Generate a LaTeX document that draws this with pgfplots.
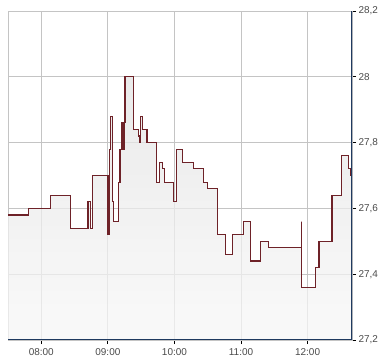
\documentclass[border=0pt]{standalone}
\usepackage{pgfplots}
\pgfplotsset{compat=1.18}
\usepackage{fontspec}
\setmainfont{Liberation Sans}
\definecolor{linered}{HTML}{6E2228}
\definecolor{gridgray}{HTML}{C4C4C4}
\definecolor{navy}{HTML}{1F3A60}
\definecolor{labgray}{HTML}{4A4A4A}
\pgfplotstableread{
t v
450 27.58
468.3 27.60
488.1 27.64
506.1 27.54
522.1 27.62
524.2 27.54
526.0 27.70
540.1 27.52
541.3 27.78
542.6 27.88
544.4 27.62
545.0 27.56
549.8 27.68
550.9 27.78
552.1 27.86
553.2 27.78
554.5 27.86
555.4 28.00
562.9 27.84
567.2 27.82
568.1 27.80
569.0 27.88
571.0 27.84
575.3 27.80
583.6 27.68
586.4 27.74
589.1 27.72
590.9 27.68
599.0 27.62
601.7 27.78
607.4 27.74
617.0 27.72
626.0 27.68
629.6 27.66
638.6 27.52
645.8 27.46
652.1 27.52
662.0 27.56
668.4 27.44
677.5 27.50
684.6 27.48
714.3 27.56
714.3 27.36
726.9 27.42
730.3 27.50
742.0 27.64
750.4 27.76
756.7 27.72
759.1 27.70
760 27.70
}\pricedata
\begin{document}
\begin{tikzpicture}
\path (0,0) rectangle (390bp,364bp);
\begin{axis}[
  at={(8bp,24bp)}, anchor=south west,
  scale only axis, width=344bp, height=329bp,
  xmin=450, xmax=760, ymin=27.2, ymax=28.2,
  xtick={480,540,600,660,720},
  xticklabels={08:00,09:00,10:00,11:00,12:00},
  ytick={27.2,27.4,27.6,27.8,28,28.2},
  yticklabel pos=right,
  xtick pos=lower, ytick pos=right,
  tick align=outside,
  major tick length=4bp,
  tick style={color=black, line width=0.8bp},
  grid=major,
  major grid style={color=gridgray, line width=0.9bp},
  axis line style={color=gridgray, line width=0.9bp},
  /pgf/number format/assume math mode=true,
  /pgf/number format/use comma,
  /pgf/number format/fixed,
  /pgf/number format/precision=1,
  ticklabel style={font=\fontsize{10}{12}\selectfont, text=labgray},
  xticklabel style={yshift=-1bp},
  yticklabel style={xshift=-1bp},
]
\addplot[const plot, draw=none, top color=black!11, bottom color=black!3, fill opacity=0.75] table[x=t,y=v] {\pricedata} \closedcycle;
\addplot[const plot, color=linered, line width=1.1bp] table[x=t,y=v] {\pricedata};
\draw[navy, line width=1.1bp] (rel axis cs:0,0) -- (rel axis cs:1,0) -- (rel axis cs:1,1);
\end{axis}
\end{tikzpicture}
\end{document}
